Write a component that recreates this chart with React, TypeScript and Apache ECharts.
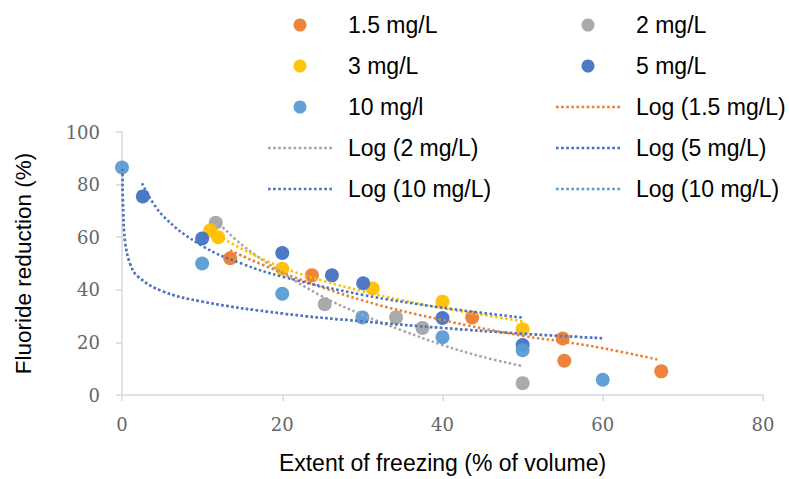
import React, { useEffect, useRef } from "react";
import * as echarts from "echarts";

// ---- data ----
const xTicks = [0, 20, 40, 60, 80];
const yTicks = [0, 20, 40, 60, 80, 100];

const pts15: [number, number][] = [[13.5, 52], [23.7, 45.5], [43.7, 29.5], [55, 21.5], [55.2, 13], [67.3, 9]];
const pts2: [number, number][] = [[11.7, 65.5], [25.3, 34.5], [34.2, 29.5], [37.5, 25.5], [50, 4.5]];
const pts3: [number, number][] = [[11, 62.5], [12, 60], [20, 48], [31.3, 40.5], [40, 35.5], [50, 25]];
const pts5: [number, number][] = [[2.6, 75.5], [10, 59.5], [20, 54], [26.2, 45.5], [30.1, 42.5], [40, 29.3], [50, 19]];
const pts10: [number, number][] = [[0, 86.5], [10, 50], [20, 38.5], [30, 29.5], [40, 22], [50, 17], [60, 5.8]];

const trend15: [number, number][] = [[13.5, 55], [20, 46.5], [30, 36], [40, 28.5], [50, 22.5], [55, 20.3], [60, 17.8], [67, 13.4]];
const trend2: [number, number][] = [[11.7, 66.5], [15, 57], [20, 46.5], [25, 37.5], [30, 30.5], [35, 24.5], [40, 19], [45, 14.5], [50, 11]];
const trend3: [number, number][] = [[11, 62.5], [15, 55.5], [20, 48.5], [25, 43.5], [30, 39.5], [35, 36], [40, 33], [45, 30.5], [50, 28]];
const trend5: [number, number][] = [[2.5, 80.5], [5, 68.5], [10, 56.7], [15, 49.9], [20, 45], [30, 38.1], [40, 33.2], [50, 29.4]];
const trend10: [number, number][] = [[0.05, 86], [0.15, 70], [0.4, 58], [1, 50], [2, 45], [5, 39.5], [10, 35.5], [20, 31], [30, 28], [40, 25.5], [50, 23.3], [60, 21.6]];

const scatterNames = ["1.5 mg/L", "2 mg/L", "3 mg/L", "5 mg/L", "10 mg/l"];
const legendCol1 = ["1.5 mg/L", "3 mg/L", "10 mg/l", "Log (2 mg/L)", "Log (10 mg/L)"];
const legendCol2 = ["2 mg/L", "5 mg/L", "Log (1.5 mg/L)", "Log (5 mg/L)", "Log (10 mg/L)#2"];

const ORANGE = "#ED7D31";
const GRAY = "#A5A5A5";
const YELLOW = "#FFC000";
const DBLUE = "#4472C4";
const LBLUE = "#5B9BD5";

const SANS = "'Liberation Sans', Arial, sans-serif";
const SERIF = "'DejaVu Serif', serif";

// dotted-line legend icon: 13 small squares
function dottedIcon() {
  let d = "path://";
  for (let i = 0; i < 13; i++) d += `M${i * 5},0h2.6v2.6h-2.6z `;
  return d.trim();
}
const DOT_ICON = dottedIcon();

function legendData(names: string[]) {
  return names.map((n) =>
    scatterNames.includes(n) ? { name: n, icon: "circle" } : { name: n, icon: DOT_ICON }
  );
}

function makeLegend(names: string[], left: number) {
  return {
    orient: "vertical",
    left,
    top: 13,
    padding: 0,
    itemWidth: 64,
    itemHeight: 13,
    itemGap: 17,
    selectedMode: false,
    data: legendData(names),
    formatter: (n: string) => n.replace("#2", ""),
    textStyle: {
      fontFamily: SANS,
      fontSize: 23,
      lineHeight: 24,
      color: "#000",
      padding: [0, 0, 0, 11],
    },
  };
}

function scatter(name: string, data: [number, number][], color: string) {
  return {
    type: "scatter",
    name,
    data,
    symbolSize: 14,
    itemStyle: { color, opacity: 0.95 },
    z: 2,
  };
}

function trend(name: string, data: [number, number][], color: string) {
  return {
    type: "line",
    name,
    data,
    smooth: 0.4,
    symbol: "none",
    lineStyle: { color, width: 2.5, type: [2.5, 2.5] },
    itemStyle: { color },
    z: 3,
  };
}

export default function App() {
  const ref = useRef<HTMLDivElement>(null);
  useEffect(() => {
    const chart = echarts.init(ref.current!, undefined, { renderer: "svg" });
    const axisColor = "#D9D9D9";
    chart.setOption({
      animation: false,
      backgroundColor: "#fff",
      grid: { left: 122, right: 26, top: 132, bottom: 81 },
      legend: [makeLegend(legendCol1, 268), makeLegend(legendCol2, 556)],
      xAxis: {
        type: "value",
        min: xTicks[0],
        max: xTicks[xTicks.length - 1],
        interval: 20,
        name: "Extent of freezing (% of volume)",
        nameLocation: "middle",
        nameGap: 56,
        nameTextStyle: { fontFamily: SANS, fontSize: 23, color: "#000" },
        axisLine: { show: true, lineStyle: { color: axisColor, width: 1.5 } },
        axisTick: { show: true, length: 6, lineStyle: { color: axisColor, width: 1.5 } },
        splitLine: { show: false },
        axisLabel: { fontFamily: SERIF, fontSize: 18, color: "#666", margin: 20 },
      },
      yAxis: {
        type: "value",
        min: yTicks[0],
        max: yTicks[yTicks.length - 1],
        interval: 20,
        name: "Fluoride reduction (%)",
        nameLocation: "middle",
        nameRotate: 90,
        nameGap: 87,
        nameTextStyle: { fontFamily: SANS, fontSize: 22.5, color: "#000" },
        axisLine: { show: true, lineStyle: { color: axisColor, width: 1.5 } },
        axisTick: { show: true, length: 6, lineStyle: { color: axisColor, width: 1.5 } },
        splitLine: { show: false },
        axisLabel: { fontFamily: SERIF, fontSize: 18, color: "#666", margin: 22 },
      },
      series: [
        scatter("1.5 mg/L", pts15, ORANGE),
        scatter("2 mg/L", pts2, GRAY),
        scatter("3 mg/L", pts3, YELLOW),
        scatter("5 mg/L", pts5, DBLUE),
        scatter("10 mg/l", pts10, LBLUE),
        trend("Log (10 mg/L)#2", trend10, LBLUE),
        trend("Log (1.5 mg/L)", trend15, ORANGE),
        trend("Log (2 mg/L)", trend2, GRAY),
        trend("Log (3 mg/L)", trend3, YELLOW),
        trend("Log (5 mg/L)", trend5, DBLUE),
        trend("Log (10 mg/L)", trend10, "#5A72B8"),
      ],
    });
    return () => chart.dispose();
  }, []);
  return (
    <div
      ref={ref}
      style={{ position: "fixed", left: 0, top: 0, width: 789, height: 479, background: "#fff" }}
    />
  );
}
